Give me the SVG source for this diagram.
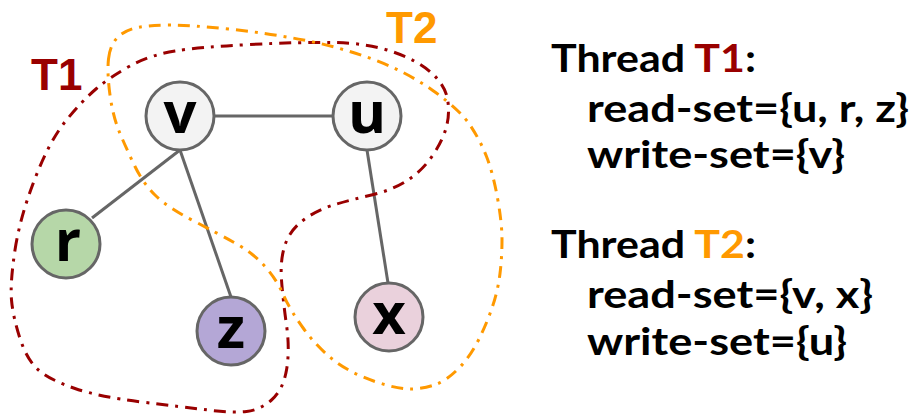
<svg xmlns="http://www.w3.org/2000/svg" width="913" height="414" viewBox="0 0 913 414">
<style>
.edge{stroke:#666;stroke-width:3;fill:none}
.node circle{stroke:#666;stroke-width:3}
.node text{font-family:"Open Sans","Noto Sans",sans-serif;font-weight:bold;font-size:58px;fill:#000;text-anchor:middle}
.hull{fill:none;stroke-width:3;stroke-dasharray:12 7 3 7;stroke-linecap:butt}
.lbl{font-family:"Liberation Sans",Arial,sans-serif;font-weight:bold;font-size:44px}
.info{font-family:Lato,"Open Sans",sans-serif;font-weight:bold;font-size:38px;fill:#000}
</style>
<rect width="913" height="414" fill="#fff"/>
<g id="connectors">
<line class="edge" x1="180" y1="116" x2="367" y2="116"/>
<line class="edge" x1="180" y1="150" x2="92" y2="218"/>
<line class="edge" x1="180" y1="150" x2="231" y2="297"/>
<line class="edge" x1="367" y1="150" x2="388" y2="283"/>
</g>
<g id="T1">
<path class="hull" stroke="#990000" d="M 15,250 Q 20,217 35,178.5 Q 50,140 66.5,120 Q 83,100 96.5,88.5 Q 110,77 130,66 Q 150,55 175,51 Q 200,47 250,44.5 Q 300,42 333.5,42.5 Q 367,43 392,51.5 Q 417,60 431,72.5 Q 445,85 447.5,99 Q 450,113 446.5,126.5 Q 443,140 433,155 Q 423,170 408,180 Q 393,190 371.5,195 Q 350,200 333.5,205 Q 317,210 303.5,220 Q 290,230 285,245 Q 280,260 281.5,280 Q 283,300 286.5,325 Q 290,350 286.5,370 Q 283,390 271.5,400 Q 260,410 246.5,411.5 Q 233,413 208,410 Q 183,407 141.5,402 Q 100,397 75,388.5 Q 50,380 38.5,370 Q 27,360 20,338.5 Q 13,317 11.5,300 Q 10,283 15,250 Z"/>
<text class="lbl" x="31" y="90" fill="#990000">T1</text>
</g>
<g id="T2">
<path class="hull" stroke="#ff9900" d="M 108.5,59 Q 110,45 117.5,37.5 Q 125,30 137.5,27.5 Q 150,25 170,25 Q 190,25 228.5,29 Q 267,33 303.5,40 Q 340,47 373.5,59.5 Q 407,72 433.5,91 Q 460,110 470,125 Q 480,140 486.5,156.5 Q 493,173 497.5,198 Q 502,223 502,240 Q 502,257 500,273.5 Q 498,290 492.5,306.5 Q 487,323 478.5,340 Q 470,357 458.5,368.5 Q 447,380 437,384 Q 427,388 413.5,389 Q 400,390 375,381.5 Q 350,373 333.5,360 Q 317,347 303.5,328.5 Q 290,310 283.5,295 Q 277,280 265,266.5 Q 253,253 235,243 Q 217,233 192,220 Q 167,207 155,195 Q 143,183 135,166.5 Q 127,150 120,133.5 Q 113,117 110,95 Q 107,73 108.5,59 Z"/>
<text class="lbl" x="386" y="43" fill="#ff9900">T2</text>
</g>
<g id="node-v" class="node"><circle cx="180" cy="116" r="34" fill="#f3f3f3"/><text x="180" y="133">v</text></g>
<g id="node-u" class="node"><circle cx="367" cy="116" r="34" fill="#f3f3f3"/><text x="367" y="133">u</text></g>
<g id="node-r" class="node"><circle cx="66" cy="244" r="34" fill="#b6d7a8"/><text x="68" y="261">r</text></g>
<g id="node-z" class="node"><circle cx="231" cy="331" r="34" fill="#b4a7d6"/><text x="231" y="348">z</text></g>
<g id="node-x" class="node"><circle cx="389" cy="317" r="34" fill="#ead1dc"/><text x="389" y="334">x</text></g>
<g id="legend">
<text class="info" x="551" y="72" textLength="205" lengthAdjust="spacingAndGlyphs">Thread <tspan fill="#990000">T1</tspan>:</text>
<text class="info" x="587" y="122" textLength="322" lengthAdjust="spacingAndGlyphs">read-set={u, r, z}</text>
<text class="info" x="587" y="168" textLength="258" lengthAdjust="spacingAndGlyphs">write-set={v}</text>
<text class="info" x="551" y="258" textLength="205" lengthAdjust="spacingAndGlyphs">Thread <tspan fill="#ff9900">T2</tspan>:</text>
<text class="info" x="587" y="308" textLength="286" lengthAdjust="spacingAndGlyphs">read-set={v, x}</text>
<text class="info" x="587" y="355" textLength="260" lengthAdjust="spacingAndGlyphs">write-set={u}</text>
</g>
</svg>
